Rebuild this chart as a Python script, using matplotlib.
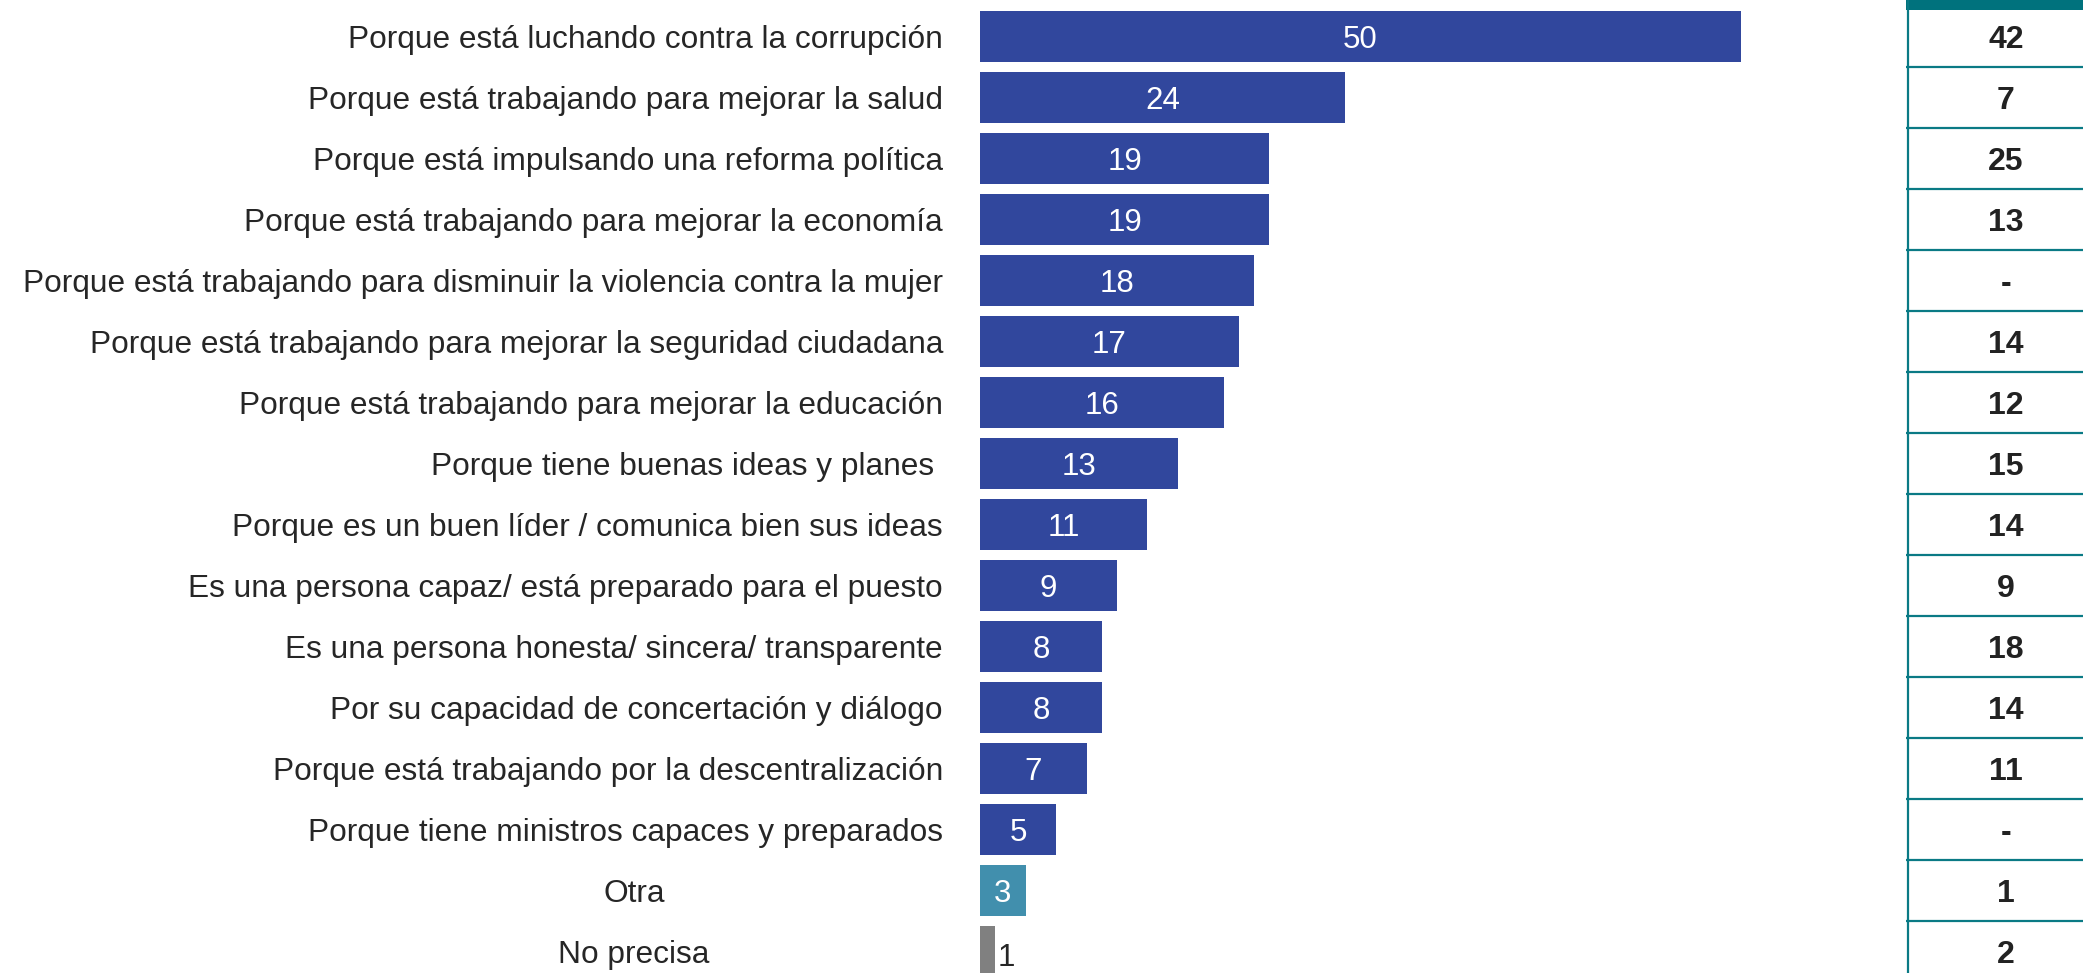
import matplotlib.pyplot as plt

categories = [
    "Porque está luchando contra la corrupción",
    "Porque está trabajando para mejorar la salud",
    "Porque está impulsando una reforma política",
    "Porque está trabajando para mejorar la economía",
    "Porque está trabajando para disminuir la violencia contra la mujer",
    "Porque está trabajando para mejorar la seguridad ciudadana",
    "Porque está trabajando para mejorar la educación",
    "Porque tiene buenas ideas y planes ",
    "Porque es un buen líder / comunica bien sus ideas",
    "Es una persona capaz/ está preparado para el puesto",
    "Es una persona honesta/ sincera/ transparente",
    "Por su capacidad de concertación y diálogo",
    "Porque está trabajando por la descentralización",
    "Porque tiene ministros capaces y preparados",
    "Otra",
    "No precisa",
]
values = [50, 24, 19, 19, 18, 17, 16, 13, 11, 9, 8, 8, 7, 5, 3, 1]
previous = ["42", "7", "25", "13", "-", "14", "12", "15", "14", "9", "18", "14", "11", "-", "1", "2"]
centered = {"Otra", "No precisa"}

plt.rcParams['font.family'] = ['Liberation Sans', 'DejaVu Sans']

W, H = 2083, 973
fig = plt.figure(figsize=(W / 100, H / 100), dpi=100)

px_unit = 15.22   # pixels per percentage point
row_px = 61.0
top_center = 36.5
x0 = 980
x_tab = 1906

ylim = ((H - top_center) / row_px, -top_center / row_px)

ax = fig.add_axes([x0 / W, 0, (x_tab - x0) / W, 1])
ax.set_xlim(0, (x_tab - x0) / px_unit)
ax.set_ylim(*ylim)
ax.axis('off')

colors = ['#31479d'] * 14 + ['#418fad', '#808080']
ypos = list(range(len(values)))
ax.barh(ypos, values, height=0.84, color=colors)

for y, v, lab in zip(ypos, values, categories):
    if v >= 3:
        ax.text(v / 2, y, str(v), ha='center', va='center_baseline', color='white', fontsize=22.5)
    else:
        ax.text(v + 0.15, y + 0.05, str(v), ha='left', va='center_baseline', color='#262626', fontsize=22.5)
    # category label to the left of the bars
    if lab in centered:
        ax.text(-346 / px_unit, y, lab, ha='center', va='center_baseline', color='#262626', fontsize=22.8)
    else:
        ax.text(-37 / px_unit, y, lab, ha='right', va='center_baseline', color='#262626', fontsize=22.8)

# side table with previous values
tab = fig.add_axes([x_tab / W, 0, (W - x_tab) / W, 1])
tab.set_xlim(0, W - x_tab)
tab.set_ylim(*ylim)
tab.axis('off')
teal = '#0a7a85'
tab.axhspan(-top_center / row_px, -top_center / row_px + 10 / row_px, color='#00727d', lw=0)
tab.axvline(1.5, color=teal, lw=1.6)
for i in range(len(previous)):
    tab.axhline(i + 0.5, color=teal, lw=1.6)
    tab.text(100, i, previous[i], ha='center', va='center_baseline', fontsize=23,
             fontweight='bold', color='#222222')

fig.savefig('out.png', dpi=100)
